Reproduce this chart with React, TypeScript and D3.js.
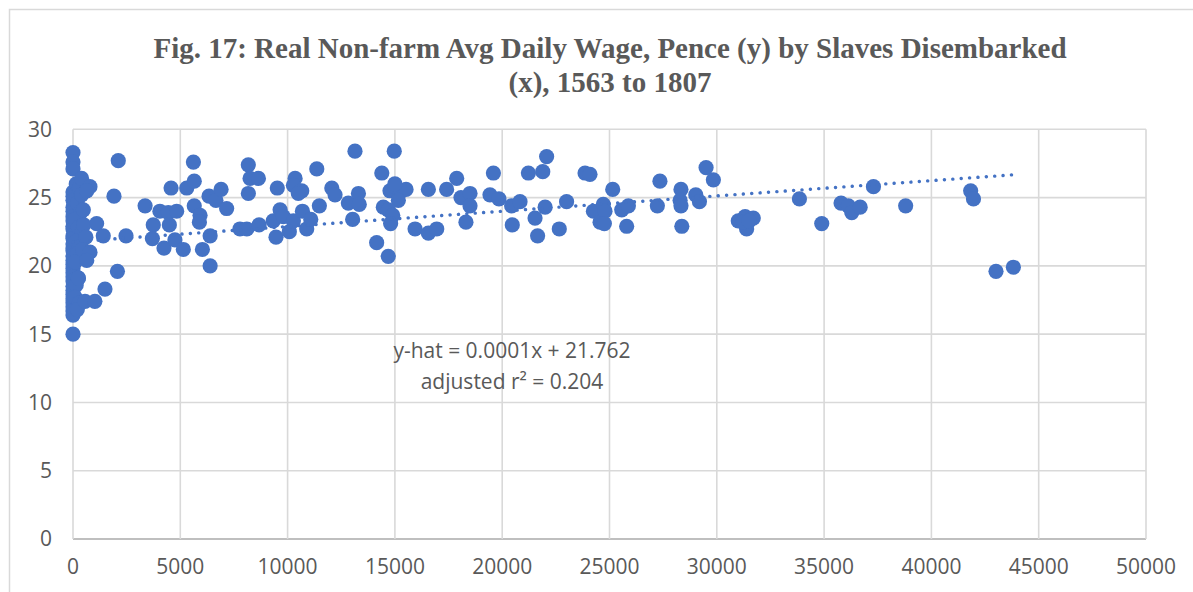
import * as d3 from 'd3'

// Slaves disembarked (x) and real non-farm avg daily wage in pence (y)
const slaves = [
  0, 0, 0, 0, 0, 0, 0, 0, 0, 0, 0, 0, 0, 0, 0, 0, 0, 0, 0, 0, 0, 0, 0, 0, 0, 0, 0, 0, 0, 0, 0, 0, 0,
  150, 300, 200, 350, 100, 250, 400, 150, 300, 200, 100, 250, 150, 100, 300, 200, 400, 500, 600, 450,
  400, 790, 640, 480, 1100, 1410, 790, 640, 250, 560, 1020, 1490, 2070, 2110, 1910, 2470,
  3360, 4570, 5300, 5610, 5650, 5650, 6340, 6660, 6900, 7160, 3740, 3700, 4050, 4440, 4830, 4490,
  4240, 4750, 5140, 5920, 5890, 6030, 6390, 6390,
  7780, 8100, 8170, 8250, 8640, 8170, 8670, 9330, 9460, 9520, 9650, 9800, 10080, 10270, 10350,
  10270, 10660, 10500, 10690, 10890, 11080, 11360, 11480, 12060, 12210,
  13140, 14970, 12830, 13300, 13340, 13030, 14390, 14770, 15000, 15240, 15520, 15160, 15000,
  14460, 14690, 14900, 14800, 14150, 14690, 15940, 16560, 16950, 16560, 17410, 17880, 18080,
  18500, 18500, 18310, 19590, 19430, 19850, 20440, 20830, 20470, 21220, 21890, 22070, 21530,
  21650, 22000, 22660, 23000, 23860, 24090, 24250, 24560,
  25150, 24710, 24790, 24760, 25570, 25880, 25800, 27350, 27230, 28330, 28290, 28330, 28370,
  29020, 29190, 29500, 29840, 31000, 31320, 31700, 31390, 31230, 31500,
  33850, 34890, 35790, 36130, 36290, 36680, 37300, 38800, 41830, 41960, 43010, 43820,
]

const wage = [
  28.3, 27.6, 27.1, 25.4, 25.1, 24.8, 24.3, 24.0, 23.6, 23.3, 22.9, 22.7, 22.2, 22.0, 21.6, 21.3, 21.1,
  20.7, 20.4, 20.1, 19.8, 19.5, 19.2, 18.9, 18.5, 18.2, 17.9, 17.6, 17.3, 17.0, 16.7, 16.4, 15.0,
  26.0, 25.7, 24.6, 23.9, 23.4, 22.8, 22.4, 21.8, 21.4, 20.9, 20.3, 19.1, 18.6, 17.7, 17.3, 16.8, 25.2, 23.0, 22.1, 21.2,
  26.4, 25.8, 25.5, 24.1, 23.1, 22.2, 21.0, 20.4, 19.1, 17.4, 17.4, 18.3, 19.6, 27.7, 25.1, 22.2,
  24.4, 25.7, 25.7, 27.6, 26.2, 24.4, 25.1, 24.8, 25.6, 24.2, 23.0, 22.0, 24.0, 23.9, 24.0, 23.0,
  21.3, 21.9, 21.2, 23.7, 23.2, 21.2, 22.2, 20.0,
  22.7, 22.7, 27.4, 26.4, 26.4, 25.3, 23.0, 23.3, 22.1, 25.7, 24.1, 23.6, 22.5, 23.3, 26.4,
  25.9, 25.5, 25.3, 24.0, 22.7, 23.4, 27.1, 24.4, 25.7, 25.2,
  28.4, 28.4, 24.6, 25.3, 24.5, 23.4, 26.8, 25.5, 25.8, 25.4, 25.6, 24.8, 26.0,
  24.3, 24.1, 23.7, 23.1, 21.7, 20.7, 22.7, 22.4, 22.7, 25.6, 25.6, 26.4, 25.0,
  25.3, 24.4, 23.2, 26.8, 25.2, 24.9, 24.4, 24.7, 23.0, 26.8, 26.9, 28.0, 23.5,
  22.2, 24.3, 22.7, 24.7, 26.8, 26.7, 24.0, 23.2,
  25.6, 24.5, 24.0, 23.1, 24.1, 24.4, 22.9, 26.2, 24.4, 25.6, 24.8, 24.4, 22.9,
  25.2, 24.7, 27.2, 26.3, 23.3, 23.6, 23.5, 22.7, 23.2, 23.3,
  24.9, 23.1, 24.6, 24.4, 23.9, 24.3, 25.8, 24.4, 25.5, 24.9, 19.6, 19.9,
]

const xTicks = [0, 5000, 10000, 15000, 20000, 25000, 30000, 35000, 40000, 45000, 50000]
const yTicks = [0, 5, 10, 15, 20, 25, 30]

const titleLines = ['Fig. 17: Real Non-farm Avg Daily Wage, Pence (y) by Slaves Disembarked', '(x), 1563 to 1807']
const equationLines = ['y-hat = 0.0001x + 21.762', 'adjusted r² = 0.204']

// Linear trendline as drawn by the spreadsheet
const trendIntercept = 21.762
const trendSlope = 0.000112

export default function App() {
  const width = 1193
  const height = 592
  const margin = { left: 73, right: 1146, top: 129.3, bottom: 539 }

  const x = d3.scaleLinear().domain([0, 50000]).range([margin.left, margin.right])
  const y = d3.scaleLinear().domain([0, 30]).range([margin.bottom, margin.top])

  const points = slaves.map((s, i) => ({ s, w: wage[i] }))
  const maxX = d3.max(slaves) ?? 0
  const trend = d3.line<number>()
    .x((d) => x(d))
    .y((d) => y(trendIntercept + trendSlope * d))([0, maxX])

  const grey = '#d9d9d9'
  const text = '#595959'
  const tickFont = '"Open Sans", sans-serif'

  return (
    <svg
      width={width}
      height={height}
      style={{ position: 'absolute', left: 0, top: 0, display: 'block', background: 'white' }}
    >
      <rect x={9.5} y={9.5} width={1200} height={600} fill="white" stroke={grey} strokeWidth={1.5} />

      {/* Title */}
      <text
        x={610}
        textAnchor="middle"
        fill={text}
        fontFamily='"Liberation Serif", "Times New Roman", serif'
        fontWeight="bold"
        fontSize={29}
      >
        {titleLines.map((t, i) => (
          <tspan key={i} x={610} y={58 + i * 34}>{t}</tspan>
        ))}
      </text>

      {/* Gridlines */}
      {yTicks.map((t) => (
        <line key={'gy' + t} x1={margin.left} x2={margin.right} y1={y(t)} y2={y(t)}
          stroke={t === 0 ? '#bfbfbf' : grey} strokeWidth={t === 0 ? 2 : 1.6} />
      ))}
      {xTicks.map((t) => (
        <line key={'gx' + t} x1={x(t)} x2={x(t)} y1={margin.top} y2={margin.bottom}
          stroke={grey} strokeWidth={1.6} />
      ))}

      {/* Tick labels */}
      {yTicks.map((t) => (
        <text key={'ly' + t} x={52} y={y(t)} dy="0.35em" textAnchor="end"
          fill={text} fontFamily={tickFont} fontSize={21}>{t}</text>
      ))}
      {xTicks.map((t) => (
        <text key={'lx' + t} x={x(t)} y={567} dy="0.35em" textAnchor="middle"
          fill={text} fontFamily={tickFont} fontSize={21}>{t}</text>
      ))}

      {/* Points */}
      {points.map((p, i) => (
        <circle key={i} cx={x(p.s)} cy={y(p.w)} r={7.6} fill="#4472C4" />
      ))}

      {/* Trendline */}
      <path d={trend ?? ''} fill="none" stroke="#4472C4" strokeWidth={3.4}
        strokeLinecap="round" strokeDasharray="0.1 8.3" />

      {/* Equation */}
      <text textAnchor="middle" fill={text} fontFamily={tickFont} fontSize={21}>
        {equationLines.map((t, i) => (
          <tspan key={i} x={512} y={351 + i * 31} dy="0.35em">{t}</tspan>
        ))}
      </text>
    </svg>
  )
}
